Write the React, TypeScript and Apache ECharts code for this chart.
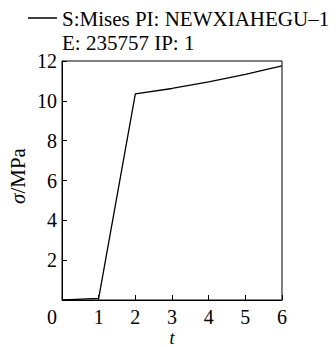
import React, { useEffect, useRef } from "react";
import * as echarts from "echarts";

const tValues = [0, 0.2, 1, 2, 3, 4, 5, 6];
const stressValues = [0, 0.02, 0.08, 10.35, 10.62, 10.95, 11.33, 11.76];
const xTicks = [0, 1, 2, 3, 4, 5, 6];
const yTicks = [0, 2, 4, 6, 8, 10, 12];
const yTickLabels = ["", "2", "4", "6", "8", "10", "12"];
const xTickLabels = ["0", "1", "2", "3", "4", "5", "6"];
const xAxisName = "t";
const yAxisSymbol = "σ";
const yAxisUnit = "/MPa";
const legendLine1 = "S:Mises PI: NEWXIAHEGU–1";
const legendLine2 = "E: 235757 IP: 1";

const FAM = "Liberation Serif";

function measure(text: string, font: string): number {
  const c = document.createElement("canvas").getContext("2d");
  if (!c) return text.length * 10;
  c.font = font;
  return c.measureText(text).width;
}

export default function App() {
  const ref = useRef<HTMLDivElement>(null);
  useEffect(() => {
    if (!ref.current) return;
    const chart = echarts.init(ref.current, undefined, { renderer: "svg" });
    const data = tValues.map((t, i) => [t, stressValues[i]]);
    chart.setOption({
      animation: false,
      backgroundColor: "#fff",
      textStyle: { fontFamily: FAM, color: "#000" },
      grid: {
        left: 62,
        top: 61,
        right: 54,
        bottom: 47,
        outerBoundsMode: "none",
        containLabel: false,
        show: true,
        borderColor: "#000",
        borderWidth: 1,
        backgroundColor: "transparent",
      },
      xAxis: {
        type: "value",
        min: xTicks[0],
        max: xTicks[xTicks.length - 1],
        interval: 1,
        axisLine: { show: true, lineStyle: { color: "#000", width: 1 } },
        axisTick: { show: true, inside: true, length: 5, lineStyle: { color: "#000" } },
        splitLine: { show: false },
        axisLabel: { show: false },
      },
      yAxis: {
        type: "value",
        min: yTicks[0],
        max: yTicks[yTicks.length - 1],
        interval: 2,
        axisLine: { show: true, lineStyle: { color: "#000", width: 1 } },
        axisTick: { show: true, inside: true, length: 5, lineStyle: { color: "#000" } },
        splitLine: { show: false },
        axisLabel: { show: false },
      },
      series: [
        {
          type: "line",
          data,
          showSymbol: false,
          lineStyle: { color: "#000", width: 1.3 },
          clip: false,
        },
      ],
    });

    const labelFont = `20px ${FAM}`;
    const graphics: any[] = [];

    xTicks.forEach((v, i) => {
      const p = chart.convertToPixel({ gridIndex: 0 }, [v, 0]) as number[];
      graphics.push({
        type: "text",
        x: v === 0 ? p[0] - 10 : p[0],
        y: p[1] + 17,
        style: {
          text: xTickLabels[i],
          font: labelFont,
          fill: "#000",
          textAlign: "center",
          textVerticalAlign: "middle",
        },
      });
    });

    yTicks.forEach((v, i) => {
      if (!yTickLabels[i]) return;
      const p = chart.convertToPixel({ gridIndex: 0 }, [0, v]) as number[];
      graphics.push({
        type: "text",
        x: p[0] - 5,
        y: p[1],
        style: {
          text: yTickLabels[i],
          font: labelFont,
          fill: "#000",
          textAlign: "right",
          textVerticalAlign: "middle",
        },
      });
    });

    const midX = chart.convertToPixel({ gridIndex: 0 }, [
      (xTicks[0] + xTicks[xTicks.length - 1]) / 2,
      0,
    ]) as number[];
    graphics.push({
      type: "text",
      x: midX[0],
      y: 337.5,
      style: {
        text: xAxisName,
        font: `italic 18px ${FAM}`,
        fill: "#000",
        textAlign: "center",
        textVerticalAlign: "middle",
      },
    });

    const symFont = `italic 21px ${FAM}`;
    const unitFont = `21px ${FAM}`;
    const wSym = measure(yAxisSymbol, symFont);
    const wUnit = measure(yAxisUnit, unitFont);
    const total = wSym + wUnit;
    graphics.push({
      type: "group",
      x: 18,
      y: 176,
      rotation: Math.PI / 2,
      children: [
        {
          type: "text",
          x: -total / 2,
          y: 0,
          style: {
            text: yAxisSymbol,
            font: symFont,
            fill: "#000",
            textAlign: "left",
            textVerticalAlign: "middle",
          },
        },
        {
          type: "text",
          x: -total / 2 + wSym,
          y: 0,
          style: {
            text: yAxisUnit,
            font: unitFont,
            fill: "#000",
            textAlign: "left",
            textVerticalAlign: "middle",
          },
        },
      ],
    });

    graphics.push(
      {
        type: "line",
        shape: { x1: 28, y1: 18, x2: 57, y2: 18 },
        style: { stroke: "#000", lineWidth: 1.5 },
      },
      {
        type: "text",
        x: 62,
        y: 19,
        style: {
          text: legendLine1,
          font: `21px ${FAM}`,
          fill: "#000",
          textVerticalAlign: "middle",
        },
      },
      {
        type: "text",
        x: 62,
        y: 43,
        style: {
          text: legendLine2,
          font: `21px ${FAM}`,
          fill: "#000",
          textVerticalAlign: "middle",
        },
      }
    );

    chart.setOption({ graphic: graphics });
    return () => chart.dispose();
  }, []);
  return (
    <div
      ref={ref}
      style={{ position: "fixed", left: 0, top: 0, width: 336, height: 347, background: "#fff" }}
    />
  );
}
